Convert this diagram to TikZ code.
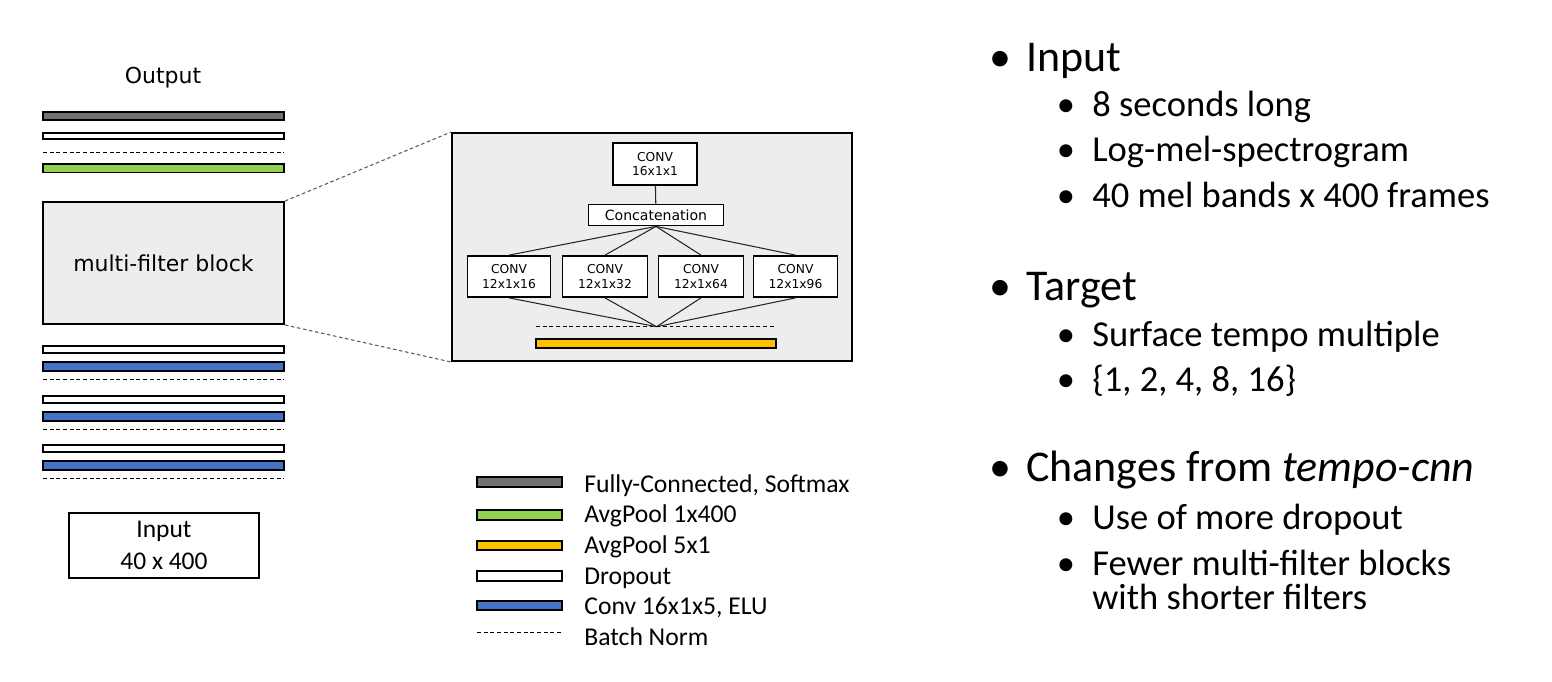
\documentclass[tikz,border=0pt]{standalone}
\usepackage{fontspec}
\setmainfont{Carlito}
\newfontfamily\verdana{DejaVu Sans}
\usetikzlibrary{positioning}

\definecolor{fcgray}{HTML}{767171}
\definecolor{poolgreen}{HTML}{92D050}
\definecolor{poolorange}{HTML}{FFC000}
\definecolor{convblue}{HTML}{4472C4}
\definecolor{blockfill}{HTML}{EDEDED}

\begin{document}
\begin{tikzpicture}[x=0.02cm, y=-0.02cm,
  layer/.style={draw=black, line width=1.1pt},
  bnorm/.style={line width=0.5pt, dash pattern=on 2.2pt off 1.6pt},
  zoomline/.style={line width=0.6pt, gray!70!black, dash pattern=on 2pt off 1.5pt},
  wire/.style={line width=0.6pt, black!85},
  convbox/.style={draw, line width=1pt, fill=white, inner sep=0pt, align=center,
    font=\verdana\fontsize{7}{8.5}\selectfont},
  legtxt/.style={anchor=base west, inner sep=0pt, font=\fontsize{14.6}{17}\selectfont},
  head/.style={anchor=base west, inner sep=0pt, font=\fontsize{25}{30}\selectfont},
  headbul/.style={anchor=base, inner sep=0pt, font=\fontsize{25}{30}\selectfont},
  sub/.style={anchor=base west, inner sep=0pt, font=\fontsize{20.8}{25}\selectfont},
  subbul/.style={anchor=base, inner sep=0pt, font=\fontsize{20.8}{25}\selectfont}]
  \useasboundingbox (0,0) rectangle (1552,681);
  %----- helpers -----
  \def\layer#1#2#3{\draw[layer, fill=#3] (43,#1) rectangle (284,#2);}
  \def\bn#1{\draw[bnorm] (43,#1) -- (284,#1);}

  %----- network stack (top = output) -----
  \node[font=\verdana\fontsize{12.5}{15}\selectfont] (outlbl) at (163,78) {Output};
  \layer{112}{120}{fcgray}
  \layer{133}{139}{white}
  \bn{152}
  \layer{164}{172.5}{poolgreen}
  \node[layer, fill=blockfill, minimum width=241*0.02cm, minimum height=122*0.02cm,
    font=\verdana\fontsize{12.5}{15}\selectfont] (mfb) at (163.5,263) {multi-filter block};
  % dropout / conv / batch norm, three times
  \foreach \y in {346,396,445} {
    \layer{\y}{\y+7}{white}
    \layer{\y+16}{\y+25}{convblue}
    \bn{\y+33}
  }
  \node[layer, minimum width=190*0.02cm, minimum height=65*0.02cm, align=center,
    font=\fontsize{14.5}{17.8}\selectfont] (inp) at (164,545.5) {Input\\40 x 400};

  %----- zoomed multi-filter block -----
  \node[layer, fill=blockfill, minimum width=400*0.02cm, minimum height=228*0.02cm] (zoom) at (652,247) {};
  \draw[zoomline] (mfb.north east) -- (zoom.north west);
  \draw[zoomline] (mfb.south east) -- (zoom.south west);

  \node[convbox, minimum width=84*0.02cm, minimum height=42*0.02cm] (ctop) at (655,164) {CONV\\16x1x1};
  \node[convbox, minimum width=135*0.02cm, minimum height=21*0.02cm,
    font=\verdana\fontsize{8}{9}\selectfont] (cat) at (656,215) {Concatenation};
  \draw[wire] (ctop) -- (cat);
  \node[convbox, minimum width=83*0.02cm, minimum height=41*0.02cm] (c1) at (509,276.5) {CONV\\12x1x16};
  \node[convbox, minimum width=85*0.02cm, minimum height=41*0.02cm] (c2) at (605,276.5) {CONV\\12x1x32};
  \node[convbox, minimum width=85*0.02cm, minimum height=41*0.02cm] (c3) at (701,276.5) {CONV\\12x1x64};
  \node[convbox, minimum width=84*0.02cm, minimum height=41*0.02cm] (c4) at (795.5,276.5) {CONV\\12x1x96};
  \coordinate (merge) at (656.5,326.7);
  \foreach \i in {1,...,4} {
    \draw[wire] (cat.south) -- (c\i.north);
    \draw[wire] (c\i.south) -- (merge);
  }
  \draw[bnorm] (536,326.7) -- (776,326.7);
  \draw[layer, fill=poolorange] (536,339) rectangle (776,348);

  %----- legend -----
  \foreach \yc/\yt/\col/\txt in {482/492/fcgray/{Fully-Connected, Softmax}, 515/522/poolgreen/{AvgPool 1x400},
      545.5/553/poolorange/{AvgPool 5x1}, 576/584/white/{Dropout}, 605.5/614/convblue/{Conv 16x1x5, ELU}} {
    \draw[layer, fill=\col] (477,\yc-4.6) rectangle (562,\yc+4.6);
    \node[legtxt] (leg\col) at (584,\yt) {\txt};
  }
  \draw[bnorm] (477,632.3) -- (562,632.3);
  \node[legtxt] (legbn) at (584,645) {Batch Norm};

  %----- notes -----
  \node[headbul] (b1) at (1000,71.5) {•};
  \node[head] (h1) at (1026,71.5) {Input};
  \node[subbul] (sb1) at (1066,116) {•};
  \node[sub] (s1) at (1092,116) {8 seconds long};
  \node[subbul] (sb2) at (1066,161.5) {•};
  \node[sub] (s2) at (1092,161.5) {Log-mel-spectrogram};
  \node[subbul] (sb3) at (1066,207) {•};
  \node[sub] (s3) at (1092,207) {40 mel bands x 400 frames};

  \node[headbul] (b2) at (1000,300.5) {•};
  \node[head] (h2) at (1026,300.5) {Target};
  \node[subbul] (sb4) at (1066,346) {•};
  \node[sub] (s4) at (1092,346) {Surface tempo multiple};
  \node[subbul] (sb5) at (1066,391.5) {•};
  \node[sub] (s5) at (1092,391.5) {\{1, 2, 4, 8, 16\}};

  \node[headbul] (b3) at (1000,481) {•};
  \node[head] (h3) at (1026,481) {Changes from \textit{tempo-cnn}};
  \node[subbul] (sb6) at (1066,529.5) {•};
  \node[sub] (s6) at (1092,529.5) {Use of more dropout};
  \node[subbul] (sb7) at (1066,575) {•};
  \node[sub] (s7) at (1092,575) {Fewer multi-filter blocks};
  \node[sub] (s7b) at (1092,609.5) {with shorter filters};
\end{tikzpicture}
\end{document}
